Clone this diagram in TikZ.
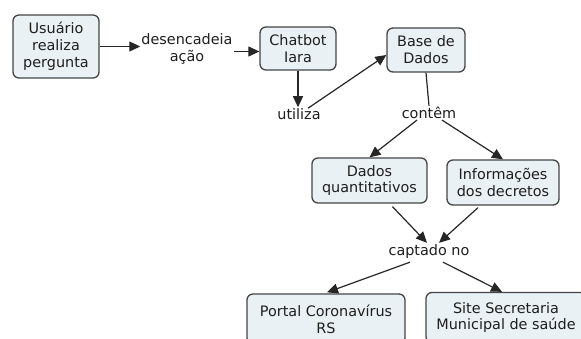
\documentclass[tikz,border=0pt]{standalone}
\usepackage{fontspec}
\setmainfont{DejaVu Sans}
\usetikzlibrary{arrows.meta,calc}
\definecolor{boxfill}{HTML}{EAF1F4}
\definecolor{boxdraw}{HTML}{454545}
\definecolor{txt}{HTML}{1E1E1E}
\begin{document}
\begin{tikzpicture}[x=1pt,y=-1pt,
  every node/.style={font=\fontsize{14.4}{16.8}\selectfont, text=txt, align=center},
  box/.style={draw=boxdraw, fill=boxfill, line width=1.3pt, rounded corners=6pt, inner sep=0pt},
  lab/.style={inner sep=1pt},
  arr/.style={draw=black!85, line width=1.2pt, -{Triangle[length=11pt,width=10pt]}},
  ln/.style={draw=black!85, line width=1.2pt}]
\clip (0,0) rectangle (581,338);
\fill[white] (0,0) rectangle (581,338);
\node[box, minimum width=86pt, minimum height=63pt] (user) at (56,46.5) {Usuário\\realiza\\pergunta};
\node[lab] (lab1) at (187,49) {desencadeia\\ação};
\node[box, minimum width=76pt, minimum height=43pt] (chat) at (298,48.5) {Chatbot\\Iara};
\node[lab] (util) at (299,114) {utiliza};
\node[box, minimum width=78pt, minimum height=44pt] (base) at (426,50) {Base de\\Dados};
\node[lab] (contem) at (429,113) {contêm};
\node[box, minimum width=115pt, minimum height=45pt] (dados) at (369.5,180.5) {Dados\\quantitativos};
\node[box, minimum width=112pt, minimum height=45pt] (info) at (503,182.5) {Informações\\dos decretos};
\node[lab] (capt) at (429,252) {captado no};
\node[box, minimum width=158pt, minimum height=50pt] (portal) at (326,319) {Portal Coronavírus\\RS};
\node[box, minimum width=160pt, minimum height=50pt] (site) at (506,317.5) {Site Secretaria\\Municipal de saúde};

\draw[arr] (user.east) -- (user.east -| lab1.west);
\draw[arr] ($(chat.west -| lab1.east)+(0,3)$) -- ($(chat.west)+(0,3)$);
\draw[arr] (chat.south) -- (util.north -| chat.south);
\draw[arr] ($(util.north)+(9,1)$) -- ($(base.west)+(0,5)$);
\draw[ln] (base.south) -- (contem.north);
\draw[arr] ($(contem.south)+(-12,0)$) -- (dados.north);
\draw[arr] ($(contem.south)+(13,0)$) -- (info.north);
\draw[arr] ($(dados.south)+(23,3)$) -- ($(capt.north)+(-2,-1)$);
\draw[arr] ($(info.south)+(-25,2)$) -- ($(capt.north)+(10,-1)$);
\draw[arr] ($(capt.south)+(-19,2)$) -- ($(portal.north)+(1,-1)$);
\draw[arr] ($(capt.south)+(14,2)$) -- ($(site.north)+(-4,0)$);
\end{tikzpicture}
\end{document}
